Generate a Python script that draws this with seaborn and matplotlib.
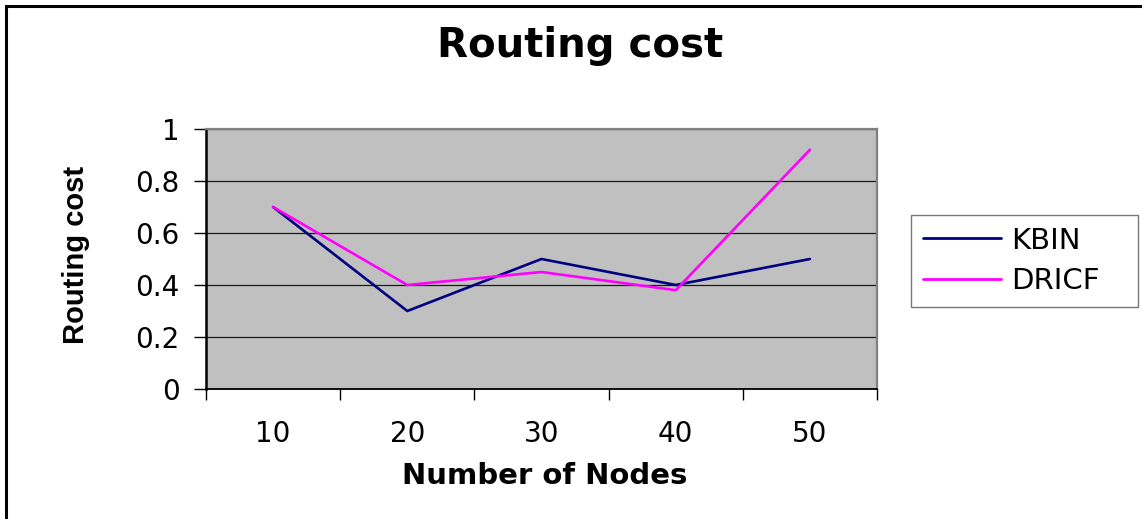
import matplotlib
matplotlib.use("Agg")
import matplotlib.pyplot as plt
from matplotlib.patches import Rectangle
from matplotlib.ticker import FixedLocator, NullFormatter
import numpy as np
import pandas as pd
import seaborn as sns

# Data
nodes = ["10", "20", "30", "40", "50"]
kbin = [0.70, 0.30, 0.50, 0.40, 0.50]
dricf = [0.70, 0.40, 0.45, 0.38, 0.92]
series_names = ["KBIN", "DRICF"]
y_ticks = [0, 0.2, 0.4, 0.6, 0.8, 1.0]
y_tick_labels = ["0", "0.2", "0.4", "0.6", "0.8", "1"]

positions = np.arange(len(nodes))
df = pd.DataFrame({
    "pos": np.concatenate([positions, positions]),
    "cost": kbin + dricf,
    "series": [series_names[0]] * len(nodes) + [series_names[1]] * len(nodes),
})

sns.set_style("white")
plt.rcParams["font.family"] = ["DejaVu Sans"]
plt.rcParams["text.color"] = "black"
plt.rcParams["xtick.color"] = "black"
plt.rcParams["ytick.color"] = "black"
plt.rcParams["axes.labelcolor"] = "black"

W, H = 1142, 519
fig = plt.figure(figsize=(W / 100, H / 100), dpi=100)
fig.patch.set_facecolor("white")

# plot area in pixel bounds
left, right, top, bottom = 206, 877, 129, 389
ax = fig.add_axes([left / W, 1 - bottom / H, (right - left) / W, (bottom - top) / H])
ax.set_facecolor("#C0C0C0")

palette = {"KBIN": "#000080", "DRICF": "#FF00FF"}
sns.lineplot(data=df, x="pos", y="cost", hue="series", palette=palette,
             linewidth=1.9, ax=ax, sort=False, legend=True)

ax.set_xlim(-0.5, len(nodes) - 0.5)
ax.set_ylim(0, 1)

# horizontal gridlines
ax.set_yticks(y_ticks)
ax.set_yticklabels(y_tick_labels)
ax.yaxis.grid(True, color="#1a1a1a", linewidth=0.9)
ax.xaxis.grid(False)
ax.set_axisbelow(True)

# category boundaries as major ticks, labels at category centers
ax.xaxis.set_major_locator(FixedLocator(np.arange(-0.5, len(nodes), 1.0)))
ax.xaxis.set_major_formatter(NullFormatter())
ax.set_xticks(positions, labels=nodes, minor=True)
ax.tick_params(axis="x", which="major", direction="out", length=8, width=1,
               color="black", bottom=True)
ax.tick_params(axis="x", which="minor", length=0, pad=22, labelsize=20,
               labelcolor="black")
ax.tick_params(axis="y", which="major", direction="out", length=9, width=1,
               color="black", left=True, pad=10, labelsize=20, labelcolor="black")

for side in ["top", "right"]:
    ax.spines[side].set_visible(True)
    ax.spines[side].set_color("#808080")
    ax.spines[side].set_linewidth(1.6)
ax.spines["left"].set_color("black")
ax.spines["left"].set_linewidth(1.8)
ax.spines["bottom"].set_color("black")
ax.spines["bottom"].set_linewidth(1.3)

ax.set_xlabel("")
ax.set_ylabel("")

# titles and axis labels
fig.text(580 / W, 1 - 57 / H, "Routing cost", ha="center", va="baseline",
         fontsize=29, fontweight="bold", color="black")
fig.text(545 / W, 1 - 484 / H, "Number of Nodes", ha="center", va="baseline",
         fontsize=21, fontweight="bold", color="black")
fig.text(76 / W, 1 - 255 / H, "Routing cost", ha="center", va="center",
         rotation=90, fontsize=21, fontweight="bold", family="Liberation Sans",
         color="black")

# legend box to the right of the plot
handles, labels = ax.get_legend_handles_labels()
ax.get_legend().remove()
leg = fig.legend(handles, labels, loc="upper left",
                 bbox_to_anchor=(911 / W, 1 - 215 / H - 0.01, 227 / W, 0.01),
                 mode="expand", borderaxespad=0, fontsize=21,
                 handlelength=2.7, handletextpad=0.35, labelspacing=0.42,
                 borderpad=0.4, fancybox=False, shadow=False, frameon=True)
leg.get_frame().set_edgecolor("#555555")
leg.get_frame().set_linewidth(1.0)
leg.get_frame().set_facecolor("white")
for text in leg.get_texts():
    text.set_color("black")
for line in leg.get_lines():
    line.set_linewidth(2.0)

# outer frame
frame = Rectangle((6 / W, -0.1), 1.2, 1.1 - 6 / H, transform=fig.transFigure,
                  fill=False, edgecolor="black", linewidth=2.2)
fig.add_artist(frame)

fig.savefig("out.png", dpi=100)
